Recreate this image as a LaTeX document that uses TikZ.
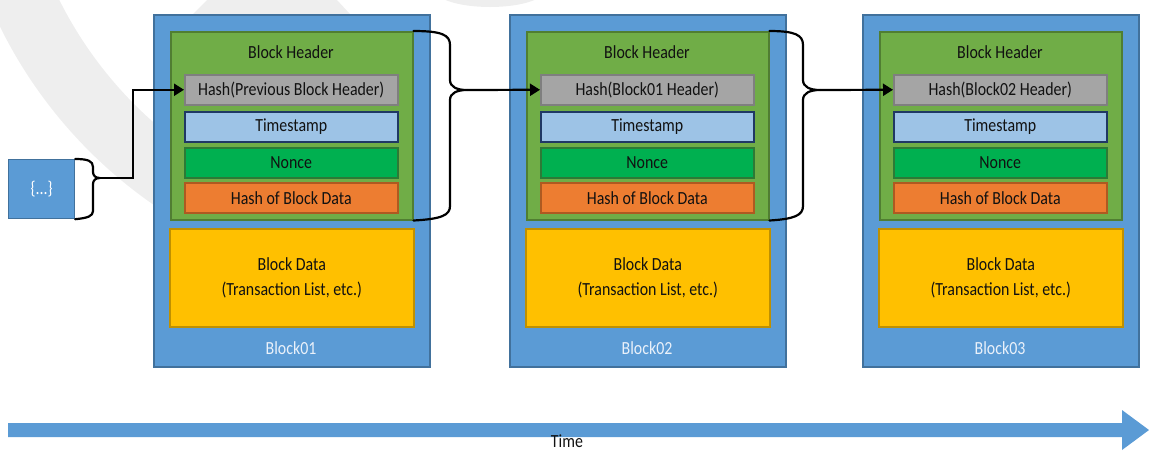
\documentclass[tikz,border=0pt]{standalone}
\usepackage{fontspec}
\setmainfont{Carlito}[FakeStretch=0.86]
\usetikzlibrary{arrows.meta,calc}
\definecolor{blueF}{HTML}{5B9BD5}
\definecolor{blueB}{HTML}{41719C}
\definecolor{greenF}{HTML}{70AD47}
\definecolor{greenB}{HTML}{507E32}
\definecolor{grayF}{HTML}{A5A5A5}
\definecolor{grayB}{HTML}{7F7F7F}
\definecolor{tsF}{HTML}{9DC3E6}
\definecolor{tsB}{HTML}{203864}
\definecolor{nonceF}{HTML}{00B050}
\definecolor{nonceB}{HTML}{2D7A36}
\definecolor{orF}{HTML}{ED7D31}
\definecolor{orB}{HTML}{AE5A21}
\definecolor{yeF}{HTML}{FFC000}
\definecolor{yeB}{HTML}{BF9000}
\definecolor{wm}{HTML}{EEEEEE}
\definecolor{labT}{HTML}{EAF1FA}
\definecolor{txt}{HTML}{111111}
\begin{document}
\begin{tikzpicture}[x=1pt,y=-1pt,
  every node/.style={font=\fontsize{18.5}{22}\selectfont, text=txt},
  outerbox/.style={draw=blueB, fill=blueF, line width=1.5pt, minimum width=276pt, minimum height=352pt, anchor=north west, inner sep=0pt},
  hdrbox/.style={draw=greenB, fill=greenF, line width=1.5pt, minimum width=242pt, minimum height=188pt, anchor=north west, inner sep=0pt},
  fieldbox/.style={line width=1.5pt, minimum width=213pt, minimum height=30pt, anchor=north west, inner sep=0pt},
  databox/.style={draw=yeB, fill=yeF, line width=1.5pt, minimum width=244pt, minimum height=98pt, anchor=north west, inner sep=0pt, align=center},
  lbl/.style={text=labT},
  brace/.style={draw=black, line width=2.2pt, line cap=round, line join=round},
  conn/.style={draw=black, line width=2.2pt, -{Triangle[length=10pt,width=12pt]}},
  timearrow/.style={fill=blueF}
]
\useasboundingbox (0,0) rectangle (1149,451);
% watermark
\begin{scope}
  \clip (0,0) rectangle (153,260);
  \fill[wm, even odd rule] (420,-180) circle [radius=468pt] (420,-180) circle [radius=403pt];
\end{scope}
\fill[wm] (207,0) -- (337,0) -- (350,14) -- (193,14) -- cycle;
\begin{scope}
  \clip (0,0) rectangle (1149,20);
  \fill[wm] (490,-10) ellipse [x radius=55pt, y radius=17pt];
\end{scope}
% blocks
\foreach \i/\x/\prev in {1/153/Previous Block Header, 2/509/Block01 Header, 3/862/Block02 Header}{
  \node[outerbox] (b\i) at (\x,14) {};
  \node[hdrbox] (h\i) at (\x+17,31) {};
  \node (ht\i) at (\x+138,52) {Block Header};
  \node[fieldbox, draw=grayB, fill=grayF] (p\i) at (\x+31,74) {Hash(\prev)};
  \node[fieldbox, draw=tsB, fill=tsF] (t\i) at (\x+31,111) {Timestamp};
  \node[fieldbox, draw=nonceB, fill=nonceF] (n\i) at (\x+31,147) {Nonce};
  \node[fieldbox, draw=orB, fill=orF] (o\i) at (\x+31,182) {Hash of Block Data};
  \node[databox] (d\i) at (\x+16,228) {Block Data\\[3pt](Transaction List, etc.)};
  \node[lbl] (l\i) at (\x+138,348) {Block0\i};
}
% start box
\node[draw=blueB, fill=blueF, line width=1.2pt, minimum width=66pt, minimum height=59pt, anchor=north west, inner sep=0pt, text=white] (s) at (8,159) {\{...\}};
% braces
\coordinate (t0) at (100,178);
\coordinate (t1) at (467,90);
\coordinate (t2) at (820,90);
\draw[brace] (s.north east) .. controls (88,159) and (93,161) .. (93,167) -- (93,172)
  .. controls (93,176) and (96,178) .. (t0)
  .. controls (96,178) and (93,180) .. (93,184) -- (93,211)
  .. controls (93,216) and (88,218) .. (s.south east);
\draw[brace] (h1.north east) .. controls (442,31) and (450,35) .. (450,45) -- (450,80)
  .. controls (450,87) and (457,90) .. (t1)
  .. controls (457,90) and (450,93) .. (450,100) -- (450,206)
  .. controls (450,215) and (442,219) .. (h1.south east);
\draw[brace] (h2.north east) .. controls (795,31) and (803,35) .. (803,45) -- (803,80)
  .. controls (803,87) and (810,90) .. (t2)
  .. controls (810,90) and (803,93) .. (803,100) -- (803,206)
  .. controls (803,215) and (795,219) .. (h2.south east);
% connectors
\draw[conn] (t0) -- (133,178) |- (p1.west);
\draw[conn] (t1) -- (p2.west);
\draw[conn] (t2) -- (p3.west);
% time arrow
\coordinate (tb) at (1149,430);
\fill[timearrow] (8,423) -- (1122,423) -- (1122,410) -- (tb) -- (1122,450) -- (1122,437) -- (8,437) -- cycle;
\node[inner sep=1pt] (time) at (567,441) {Time};
\end{tikzpicture}
\end{document}
